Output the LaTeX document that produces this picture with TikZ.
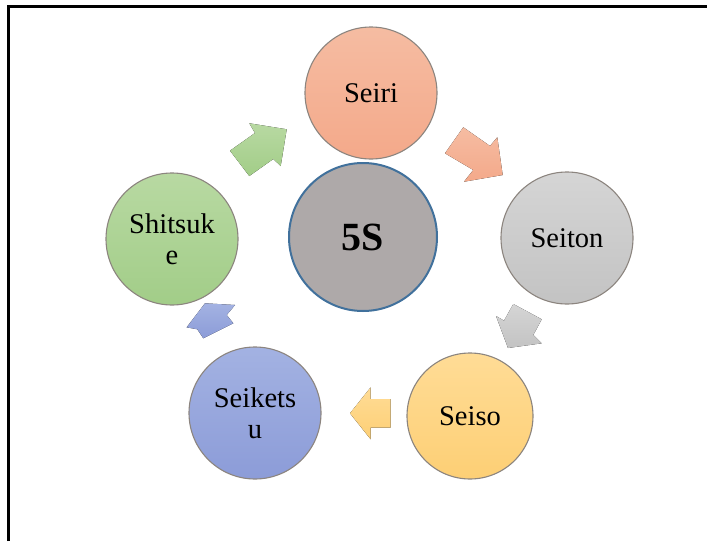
\documentclass[tikz,border=0pt]{standalone}
\usepackage{fontspec}
\setmainfont{Liberation Serif}

% circle fills (top / bottom of the gradient)
\definecolor{seiriA}{HTML}{F5BCA2}
\definecolor{seiriB}{HTML}{F4A98A}
\definecolor{seitonA}{HTML}{D5D5D5}
\definecolor{seitonB}{HTML}{C3C3C3}
\definecolor{seisoA}{HTML}{FFDC96}
\definecolor{seisoB}{HTML}{FDCF75}
\definecolor{seikeA}{HTML}{A3B2E2}
\definecolor{seikeB}{HTML}{8C9CD8}
\definecolor{shitA}{HTML}{B8D9A2}
\definecolor{shitB}{HTML}{A2CD88}
\definecolor{coreFill}{HTML}{AEA9A9}
\definecolor{coreLine}{HTML}{41719C}
\definecolor{rimGray}{HTML}{8C857F}

\tikzset{
  phase/.style={circle, minimum size=132pt, inner sep=0pt, align=center,
    draw=rimGray, line width=1.1pt,
    font=\fontsize{28.5}{31}\selectfont},
  core/.style={circle, minimum size=148pt, inner sep=0pt,
    fill=coreFill, draw=coreLine, line width=2pt,
    font=\bfseries\fontsize{40}{44}\selectfont}
}

\begin{document}
\begin{tikzpicture}[x=1pt, y=-1pt]
  \useasboundingbox (0,0) rectangle (707,541);
  \fill[white] (0,0) rectangle (707,541);

  % frame lines (top and left)
  \draw[line width=2.6pt] (8.5,541) -- (8.5,6.5) -- (707,6.5);

  % block arrows between the phases
  \fill[top color=shitA, bottom color=shitB]
    (286.7,129.3) -- (280.7,166) -- (273.3,159) -- (249.3,176)
    -- (230,150.7) -- (255,133) -- (249.3,123.3) -- cycle;
  \fill[top color=seiriA, bottom color=seiriB]
    (502.7,175) -- (464,181.7) -- (473.3,170) -- (445,153.3)
    -- (463.3,127.3) -- (490,146) -- (497.3,137.3) -- cycle;
  \fill[top color=seitonA, bottom color=seitonB]
    (508,348) -- (541.7,343.3) -- (533.3,335) -- (541.7,319.3)
    -- (513.3,304) -- (504,320.7) -- (496,316) -- cycle;
  \fill[top color=seisoA, bottom color=seisoB]
    (350,413.3) -- (370.7,387.3) -- (370.7,399) -- (390.7,399)
    -- (390.7,427.7) -- (370.7,427.7) -- (370.7,439.3) -- cycle;
  \fill[top color=seikeA, bottom color=seikeB]
    (205,303.3) -- (235,305) -- (226.7,315) -- (233.3,323.3)
    -- (203.3,338.3) -- (197.3,329.3) -- (186.7,327.3) -- cycle;

  % centre
  \node[core] (core) at (363,237) {5S};

  % the five phases
  \node[phase, top color=seiriA, bottom color=seiriB] (seiri) at (371,93) {Seiri};
  \node[phase, top color=seitonA, bottom color=seitonB] (seiton) at (567,238) {Seiton};
  \node[phase, minimum size=126pt, top color=seisoA, bottom color=seisoB] (seiso) at (470,416) {Seiso};
  \node[phase, top color=seikeA, bottom color=seikeB] (seiketsu) at (255,413) {Seikets\\u};
  \node[phase, top color=shitA, bottom color=shitB] (shitsuke) at (172,239) {Shitsuk\\e};
\end{tikzpicture}
\end{document}
